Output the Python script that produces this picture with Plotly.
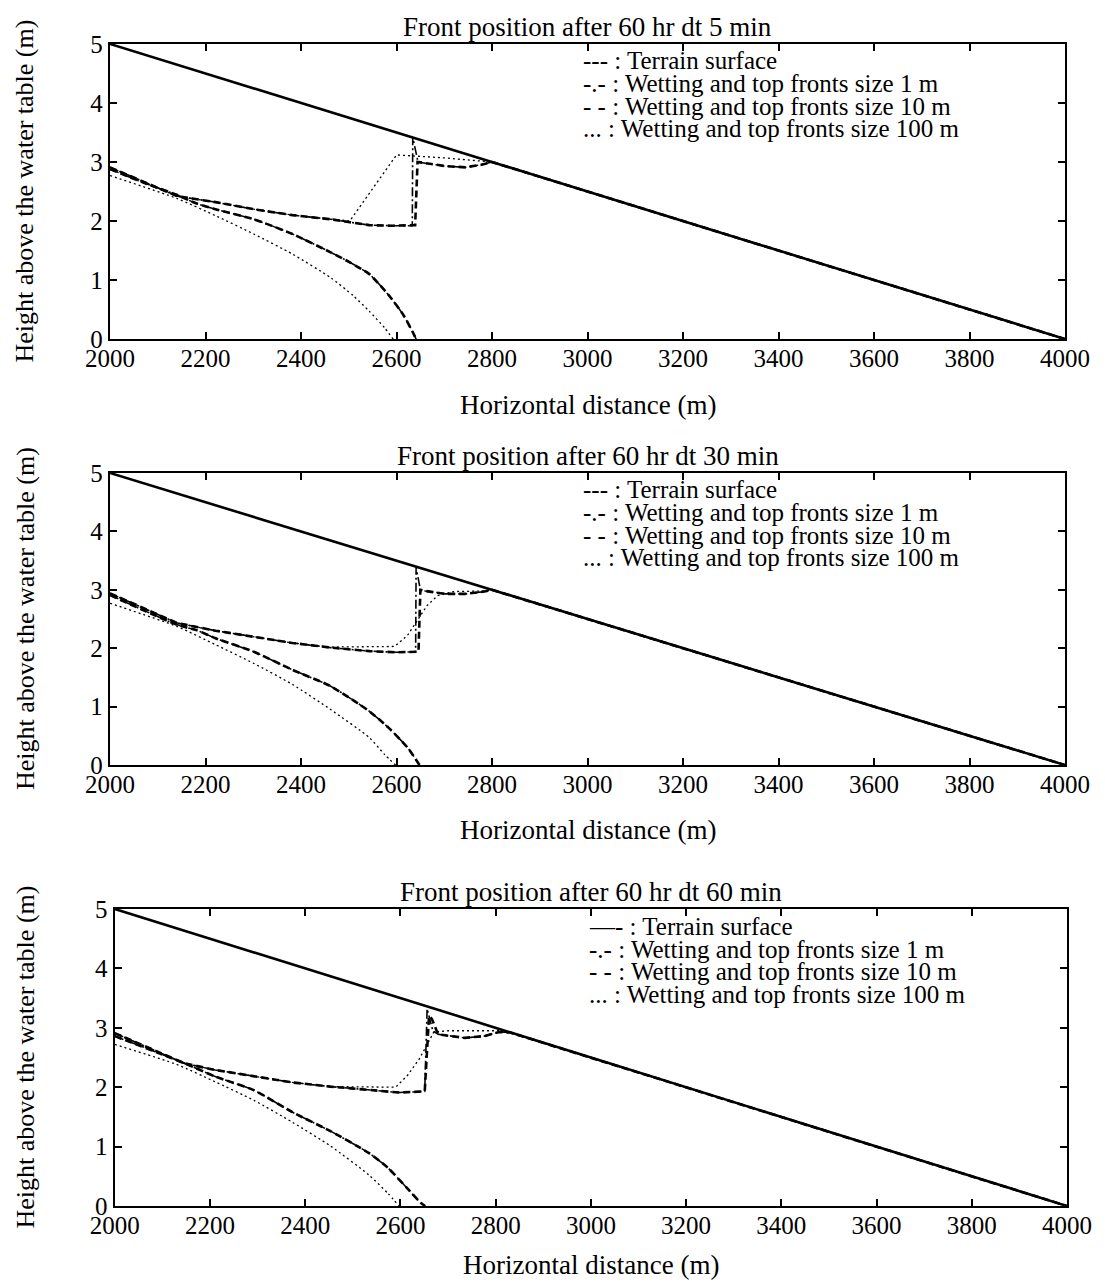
import plotly.graph_objects as go

# ---------------- data ----------------
TITLES = [
    "Front position after 60 hr dt 5 min",
    "Front position after 60 hr dt 30 min",
    "Front position after 60 hr dt 60 min",
]
LEGEND_1 = ["--- : Terrain surface",
            "-.- : Wetting and top fronts size 1 m",
            "- - : Wetting and top fronts size 10 m",
            "... : Wetting and top fronts size 100 m"]
LEGEND_2 = ["--- : Terrain surface",
            "-.- : Wetting and top fronts size 1 m",
            "- - : Wetting and top fronts size 10 m",
            "... : Wetting and top fronts size 100 m"]
LEGEND_3 = ["\u2014- : Terrain surface",
            "-.- : Wetting and top fronts size 1 m",
            "- - : Wetting and top fronts size 10 m",
            "... : Wetting and top fronts size 100 m"]
X_TITLE = "Horizontal distance (m)"
Y_TITLE = "Height above the water table (m)"
X_TICKS = [2000, 2200, 2400, 2600, 2800, 3000, 3200, 3400, 3600, 3800, 4000]
Y_TICKS = [0, 1, 2, 3, 4, 5]

TERRAIN_X = [2000, 4000]
TERRAIN_Y = [5.0, 0.0]

# Panel 1 : dt 5 min
P1_TOP_10_X = [2000, 2070, 2141, 2221, 2301, 2382, 2462, 2502, 2543, 2591, 2639, 2644, 2660, 2703, 2744, 2776, 2800, 4000]
P1_TOP_10_Y = [2.91, 2.66, 2.42, 2.32, 2.20, 2.10, 2.03, 1.98, 1.93, 1.92, 1.93, 3.00, 2.98, 2.93, 2.91, 2.95, 3.00, 0.00]
P1_TOP_1_X = [2000, 2070, 2141, 2221, 2301, 2382, 2462, 2502, 2543, 2591, 2633, 2634, 2645, 2660, 2703, 2744, 2776, 2800, 4000]
P1_TOP_1_Y = [2.91, 2.66, 2.42, 2.32, 2.20, 2.10, 2.03, 1.98, 1.93, 1.92, 1.92, 3.42, 3.00, 2.98, 2.93, 2.91, 2.95, 3.00, 0.00]
P1_WET_X = [2000, 2070, 2141, 2180, 2221, 2301, 2382, 2462, 2502, 2543, 2583, 2615, 2635, 2641]
P1_WET_Y = [2.88, 2.65, 2.44, 2.30, 2.20, 2.03, 1.78, 1.47, 1.30, 1.10, 0.75, 0.40, 0.10, 0.00]
P1_TOP_100_X = [2000, 2070, 2141, 2221, 2301, 2382, 2462, 2502, 2600, 2700, 2800, 4000]
P1_TOP_100_Y = [2.91, 2.66, 2.42, 2.32, 2.20, 2.10, 2.03, 2.00, 3.12, 3.07, 3.00, 0.00]
P1_WET_100_X = [2000, 2141, 2221, 2301, 2382, 2462, 2510, 2543, 2575, 2593]
P1_WET_100_Y = [2.77, 2.38, 2.09, 1.78, 1.44, 1.04, 0.73, 0.47, 0.19, 0.00]

# Panel 2 : dt 30 min
P2_TOP_10_X = [2000, 2141, 2221, 2301, 2382, 2462, 2543, 2600, 2646, 2650, 2660, 2703, 2744, 2784, 2800, 4000]
P2_TOP_10_Y = [2.94, 2.43, 2.30, 2.20, 2.09, 2.01, 1.95, 1.93, 1.94, 3.00, 2.98, 2.93, 2.93, 2.97, 3.00, 0.00]
P2_TOP_1_X = [2000, 2141, 2221, 2301, 2382, 2462, 2543, 2600, 2640, 2641, 2650, 2660, 2703, 2744, 2784, 2800, 4000]
P2_TOP_1_Y = [2.94, 2.43, 2.30, 2.20, 2.09, 2.01, 1.95, 1.93, 1.94, 3.38, 3.00, 2.98, 2.93, 2.93, 2.97, 3.00, 0.00]
P2_WET_X = [2000, 2141, 2181, 2221, 2301, 2382, 2462, 2543, 2583, 2623, 2648]
P2_WET_Y = [2.91, 2.40, 2.31, 2.17, 1.94, 1.63, 1.35, 0.92, 0.64, 0.30, 0.00]
P2_TOP_100_X = [2000, 2141, 2221, 2301, 2382, 2462, 2543, 2596, 2623, 2664, 2686, 2720, 2784, 2800, 4000]
P2_TOP_100_Y = [2.94, 2.43, 2.30, 2.20, 2.09, 2.02, 2.02, 2.03, 2.22, 2.73, 2.90, 2.97, 2.98, 3.00, 0.00]
P2_WET_100_X = [2000, 2141, 2221, 2301, 2382, 2462, 2543, 2575, 2598]
P2_WET_100_Y = [2.77, 2.37, 2.06, 1.74, 1.38, 0.95, 0.47, 0.18, 0.00]

# Panel 3 : dt 60 min
P3_TOP_10_X = [2000, 2147, 2211, 2292, 2373, 2453, 2534, 2598, 2651, 2660, 2666, 2679, 2735, 2776, 2808, 2830, 4000]
P3_TOP_10_Y = [2.91, 2.40, 2.29, 2.18, 2.08, 2.01, 1.95, 1.91, 1.93, 3.20, 3.15, 2.89, 2.83, 2.86, 2.93, 2.92, 0.00]
P3_TOP_1_X = [2000, 2147, 2211, 2292, 2373, 2453, 2534, 2598, 2651, 2656, 2668, 2679, 2735, 2776, 2808, 2830, 4000]
P3_TOP_1_Y = [2.91, 2.40, 2.29, 2.18, 2.08, 2.01, 1.95, 1.91, 1.93, 3.32, 2.95, 2.89, 2.83, 2.86, 2.93, 2.92, 0.00]
P3_WET_X = [2000, 2147, 2211, 2292, 2373, 2453, 2534, 2574, 2614, 2643, 2652]
P3_WET_Y = [2.86, 2.40, 2.18, 1.95, 1.58, 1.26, 0.89, 0.64, 0.30, 0.05, 0.00]
P3_TOP_100_X = [2000, 2147, 2211, 2292, 2373, 2453, 2534, 2590, 2615, 2639, 2655, 2670, 2700, 2808, 2830, 4000]
P3_TOP_100_Y = [2.91, 2.40, 2.29, 2.18, 2.08, 2.01, 2.00, 2.00, 2.20, 2.47, 2.70, 2.93, 2.95, 2.95, 2.92, 0.00]
P3_WET_100_X = [2000, 2131, 2211, 2292, 2373, 2453, 2534, 2574, 2597]
P3_WET_100_Y = [2.72, 2.38, 2.09, 1.78, 1.41, 1.01, 0.52, 0.21, 0.00]

# ---------------- figure ----------------
FONT = "Liberation Serif, Times New Roman, serif"
STYLE_TERRAIN = dict(color="black", width=2.6)
STYLE_1 = dict(color="black", width=1.6, dash="9px,3px,2px,3px")
STYLE_10 = dict(color="black", width=2.6, dash="7px,4px")
STYLE_100 = dict(color="black", width=1.3, dash="2px,3px")

PANELS = [
    dict(title=TITLES[0], legend=LEGEND_1,
         series=[(P1_WET_100_X, P1_WET_100_Y, STYLE_100, True), (P1_TOP_100_X, P1_TOP_100_Y, STYLE_100, False),
                 (P1_WET_X, P1_WET_Y, STYLE_1, True), (P1_TOP_1_X, P1_TOP_1_Y, STYLE_1, False),
                 (P1_WET_X, P1_WET_Y, STYLE_10, True), (P1_TOP_10_X, P1_TOP_10_Y, STYLE_10, False),
                 (TERRAIN_X, TERRAIN_Y, STYLE_TERRAIN, False)]),
    dict(title=TITLES[1], legend=LEGEND_2,
         series=[(P2_WET_100_X, P2_WET_100_Y, STYLE_100, True), (P2_TOP_100_X, P2_TOP_100_Y, STYLE_100, False),
                 (P2_WET_X, P2_WET_Y, STYLE_1, True), (P2_TOP_1_X, P2_TOP_1_Y, STYLE_1, False),
                 (P2_WET_X, P2_WET_Y, STYLE_10, True), (P2_TOP_10_X, P2_TOP_10_Y, STYLE_10, False),
                 (TERRAIN_X, TERRAIN_Y, STYLE_TERRAIN, False)]),
    dict(title=TITLES[2], legend=LEGEND_3,
         series=[(P3_WET_100_X, P3_WET_100_Y, STYLE_100, True), (P3_TOP_100_X, P3_TOP_100_Y, STYLE_100, False),
                 (P3_WET_X, P3_WET_Y, STYLE_1, True), (P3_TOP_1_X, P3_TOP_1_Y, STYLE_1, False),
                 (P3_WET_X, P3_WET_Y, STYLE_10, True), (P3_TOP_10_X, P3_TOP_10_Y, STYLE_10, False),
                 (TERRAIN_X, TERRAIN_Y, STYLE_TERRAIN, False)]),
]

X_DOMAINS = [[0.0, 0.998], [0.0, 0.998], [0.005, 1.0]]
Y_DOMAINS = [[0.7461, 1.0], [0.3795, 0.6308], [0.0, 0.2556]]
XTITLE_SHIFT = [-66, -65, -59]
LEG_SHIFTS = [[-16, -39, -62, -84], [-16, -39, -62, -84], [-18, -41, -63, -86]]
LEG_X = [0.494, 0.494, 0.497]

fig = go.Figure()
annotations = []
layout = {}
for i, p in enumerate(PANELS):
    n = i + 1
    xa = "x" if n == 1 else f"x{n}"
    ya = "y" if n == 1 else f"y{n}"
    for (xs, ys, st, smooth) in p["series"]:
        line = dict(st)
        if smooth:
            line.update(shape="spline", smoothing=0.6)
        fig.add_trace(go.Scatter(x=xs, y=ys, mode="lines", line=line, xaxis=xa, yaxis=ya,
                                 showlegend=False, hoverinfo="skip"))
    axis_common = dict(showline=True, linecolor="black", linewidth=2.4, mirror="ticks",
                       ticks="inside", ticklen=7, tickwidth=1.6, tickcolor="black",
                       showgrid=False, zeroline=False,
                       tickfont=dict(family=FONT, size=25, color="black"))
    layout[f"xaxis{'' if n == 1 else n}"] = dict(axis_common, domain=X_DOMAINS[i], range=[2000, 4000],
                                                tickvals=X_TICKS, anchor=ya, ticklabelstandoff=-4)
    layout[f"yaxis{'' if n == 1 else n}"] = dict(axis_common, domain=Y_DOMAINS[i], range=[0, 5],
                                                tickvals=Y_TICKS, anchor=xa)
    xd = f"{xa} domain"
    yd = f"{ya} domain"
    annotations.append(dict(text=p["title"], xref=xd, yref=yd, x=0.5, y=1, xanchor="center",
                            yanchor="bottom", yshift=0, showarrow=False,
                            font=dict(family=FONT, size=27, color="black")))
    annotations.append(dict(text=X_TITLE, xref=xd, yref=yd, x=0.5, y=0, xanchor="center",
                            yanchor="middle", yshift=XTITLE_SHIFT[i], showarrow=False,
                            font=dict(family=FONT, size=27, color="black")))
    annotations.append(dict(text=Y_TITLE, xref="paper", yref=yd, x=0, y=0.5, xanchor="center",
                            yanchor="middle", xshift=-85, textangle=-90, showarrow=False,
                            borderpad=0, font=dict(family=FONT, size=26, color="black")))
    for line_txt, sh in zip(p["legend"], LEG_SHIFTS[i]):
        annotations.append(dict(text=line_txt, xref=xd, yref=yd, x=LEG_X[i], y=1, xanchor="left",
                                yanchor="middle", yshift=sh, showarrow=False, borderpad=0,
                                font=dict(family=FONT, size=25, color="black")))

fig.update_layout(**layout)
fig.update_layout(width=1105, height=1282, margin=dict(l=102, r=46, t=36, b=84),
                  paper_bgcolor="white", plot_bgcolor="white", annotations=annotations)
fig.write_html("out.html")
